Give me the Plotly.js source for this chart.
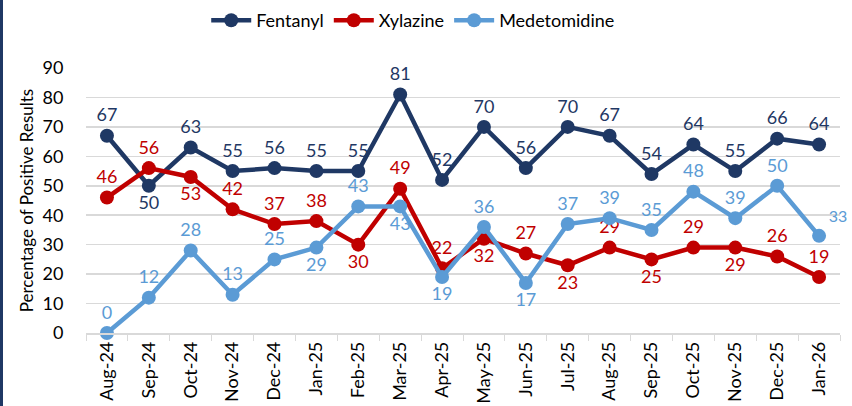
<!DOCTYPE html>
<html>
<head>
<meta charset="utf-8">
<script src="https://cdn.plot.ly/plotly-3.0.1.min.js"></script>
<style>
html,body{margin:0;padding:0;background:#fff;}
#wrap{position:relative;width:852px;height:406px;}
#chart{width:852px;height:406px;}
#bar{position:absolute;left:0;top:0;width:3px;height:406px;background:#1F3864;}
</style>
</head>
<body>
<div id="wrap"><div id="chart"></div><div id="bar"></div></div>
<script>
const months = ["Aug-24","Sep-24","Oct-24","Nov-24","Dec-24","Jan-25","Feb-25","Mar-25","Apr-25","May-25","Jun-25","Jul-25","Aug-25","Sep-25","Oct-25","Nov-25","Dec-25","Jan-26"];
const fentanyl = [67,50,63,55,56,55,55,81,52,70,56,70,67,54,64,55,66,64];
const xylazine = [46,56,53,42,37,38,30,49,22,32,27,23,29,25,29,29,26,19];
const medetomidine = [0,12,28,13,25,29,43,43,19,36,17,37,39,35,48,39,50,33];

const T = "top center", B = "bottom center";
const fentPos = [T,B,T,T,T,T,T,T,T,T,T,T,T,T,T,T,T,T];
const xylPos = [T,T,B,T,T,T,B,T,T,B,T,B,T,B,T,B,T,T];
const medPos = [T,T,T,T,T,B,T,B,B,T,B,T,T,T,T,T,T,"top right"];

const font = "Lato, 'Open Sans', sans-serif";
function series(name, y, color, pos, sizes){
  return {
    type:"scatter", mode:"lines+markers+text", name:name, x:months, y:y,
    text:y.map(String), textposition:pos,
    textfont:{family:font,size:sizes||18,color:color},
    line:{color:color,width:4.5}, marker:{color:color,size:14},
    cliponaxis:false, hoverinfo:"x+y"
  };
}
const medSizes = medetomidine.map((v,i)=> i===medetomidine.length-1 ? 16 : 18);
const data = [
  series("Fentanyl", fentanyl, "#1F3864", fentPos),
  series("Xylazine", xylazine, "#C00000", xylPos),
  series("Medetomidine", medetomidine, "#5B9BD5", medPos, medSizes)
];
const layout = {
  width:852, height:406,
  margin:{l:86,r:12,t:68,b:73},
  paper_bgcolor:"#fff", plot_bgcolor:"#fff",
  font:{family:font,size:18,color:"#000"},
  showlegend:true,
  legend:{orientation:"h",x:0.485,xanchor:"center",xref:"container",y:0.995,yanchor:"top",yref:"container",
          font:{size:18,color:"#000"},itemwidth:40,tracegroupgap:0},
  xaxis:{type:"category",tickangle:-90,tickson:"boundaries",ticks:"outside",ticklen:6,tickcolor:"#d9d9d9",
         showline:true,linecolor:"#d9d9d9",linewidth:1.5,showgrid:false,tickfont:{size:18,color:"#000"},
         range:[-0.5,17.5],fixedrange:true},
  yaxis:{range:[0,90],dtick:10,showgrid:true,gridcolor:"#d9d9d9",gridwidth:1.5,zeroline:false,
         tickfont:{size:18,color:"#000"},ticks:"outside",ticklen:18,tickcolor:"rgba(0,0,0,0)",
         title:{text:"Percentage of Positive Results",font:{size:17,color:"#000"},standoff:4}},
};
Plotly.newPlot("chart", data, layout, {displayModeBar:false,staticPlot:true});
</script>
</body>
</html>
